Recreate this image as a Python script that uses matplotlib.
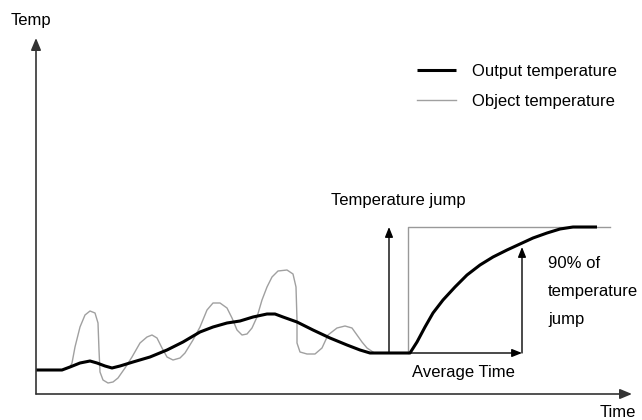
import matplotlib.pyplot as plt

plt.rcParams["font.family"] = ["Liberation Sans", "DejaVu Sans"]

# Output temperature (thick black line)
out_time = [0, 26, 34, 44, 54, 61, 69, 76, 84, 97, 114, 131, 147, 164, 177, 191, 204,
            217, 231, 239, 247, 261, 277, 294, 311, 324, 334, 372,
            374, 381, 389, 397, 407, 419, 431, 444, 457, 471, 484, 497, 511, 524,
            537, 561]
out_temp = [24, 24, 27, 31, 33, 31, 28, 26, 28, 32, 37, 44, 52, 62, 67, 71, 73,
            77, 80, 80, 77, 72, 64, 56, 49, 44, 41, 41,
            41, 52, 67, 81, 94, 107, 119, 129, 137, 144, 150, 156, 161, 165,
            167, 167]

# Object temperature (thin grey line)
obj_time = [26, 34, 36, 39, 44, 49, 54, 59, 62, 63, 64, 67, 72, 77, 82, 89, 96, 104,
            111, 116, 121, 126, 131, 137, 144, 149, 157, 164, 171, 177, 184, 191,
            196, 201, 206, 211, 216, 221, 226, 231, 236, 242, 251, 257, 260, 261,
            261, 264, 271, 279, 286, 292, 301, 309, 316, 321, 326, 331, 337]
obj_temp = [24, 27, 31, 47, 67, 79, 83, 81, 71, 44, 22, 14, 11, 12, 16, 26, 37, 51,
            57, 59, 56, 46, 37, 34, 36, 41, 54, 67, 84, 91, 91, 86,
            76, 64, 59, 60, 66, 77, 94, 107, 117, 123, 124, 120, 107, 74,
            51, 42, 40, 40, 46, 59, 66, 68, 66, 59, 52, 46, 42]

# step response markers
step_start = 372
jump_low = 41
jump_high = 167
jump_arrow_time = 353
t90 = 486
temp90 = 147
box_end = 574
time_axis_end = 596
temp_axis_end = 356

fig = plt.figure(figsize=(6.42, 4.20), dpi=100)
ax = fig.add_axes([0, 0, 1, 1])
ax.set_xlim(-36, 606)
ax.set_ylim(-26, 394)
ax.axis("off")

axis_arrow = dict(arrowstyle="-|>,head_length=0.6,head_width=0.25", color="#333333",
                  lw=1.2, mutation_scale=12, shrinkA=0, shrinkB=0)
small_arrow = dict(arrowstyle="-|>,head_length=0.5,head_width=0.2", color="black",
                   lw=1.0, mutation_scale=12, shrinkA=0, shrinkB=0)

# axes
ax.annotate("", xy=(0, temp_axis_end), xytext=(0, 0), arrowprops=axis_arrow)
ax.annotate("", xy=(time_axis_end, 0), xytext=(0, 0), arrowprops=axis_arrow)

# box showing the temperature jump
ax.plot([step_start, step_start, box_end], [jump_low, jump_high, jump_high],
        color="#999999", lw=1.0)

obj_line, = ax.plot(obj_time, obj_temp, color="#a0a0a0", lw=1.0,
                    label="Object temperature")
out_line, = ax.plot(out_time, out_temp, color="black", lw=2.2,
                    label="Output temperature", solid_capstyle="butt",
                    solid_joinstyle="round")

# arrows
ax.annotate("", xy=(jump_arrow_time, jump_high), xytext=(jump_arrow_time, jump_low),
            arrowprops=small_arrow)
ax.annotate("", xy=(t90, temp90), xytext=(t90, jump_low), arrowprops=small_arrow)
ax.annotate("", xy=(t90, jump_low), xytext=(step_start, jump_low), arrowprops=small_arrow)

fs = 12
ax.text(-25, 369, "Temp", fontsize=fs, va="baseline")
ax.text(564, -23, "Time", fontsize=fs, va="baseline")
ax.text(295, 189, "Temperature jump", fontsize=fs, va="baseline")
ax.text(512, 126, "90% of", fontsize=fs, va="baseline")
ax.text(512, 98, "temperature", fontsize=fs, va="baseline")
ax.text(512, 70, "jump", fontsize=fs, va="baseline")
ax.text(376, 17, "Average Time", fontsize=fs, va="baseline")

ax.legend(handles=[out_line, obj_line], loc="upper left",
          bbox_to_anchor=(417 / 642, (420 - 64) / 420), frameon=False,
          fontsize=fs, borderpad=0, borderaxespad=0, handlelength=2.35,
          handletextpad=0.95, labelspacing=0.9)

fig.savefig("out.png", dpi=100)
